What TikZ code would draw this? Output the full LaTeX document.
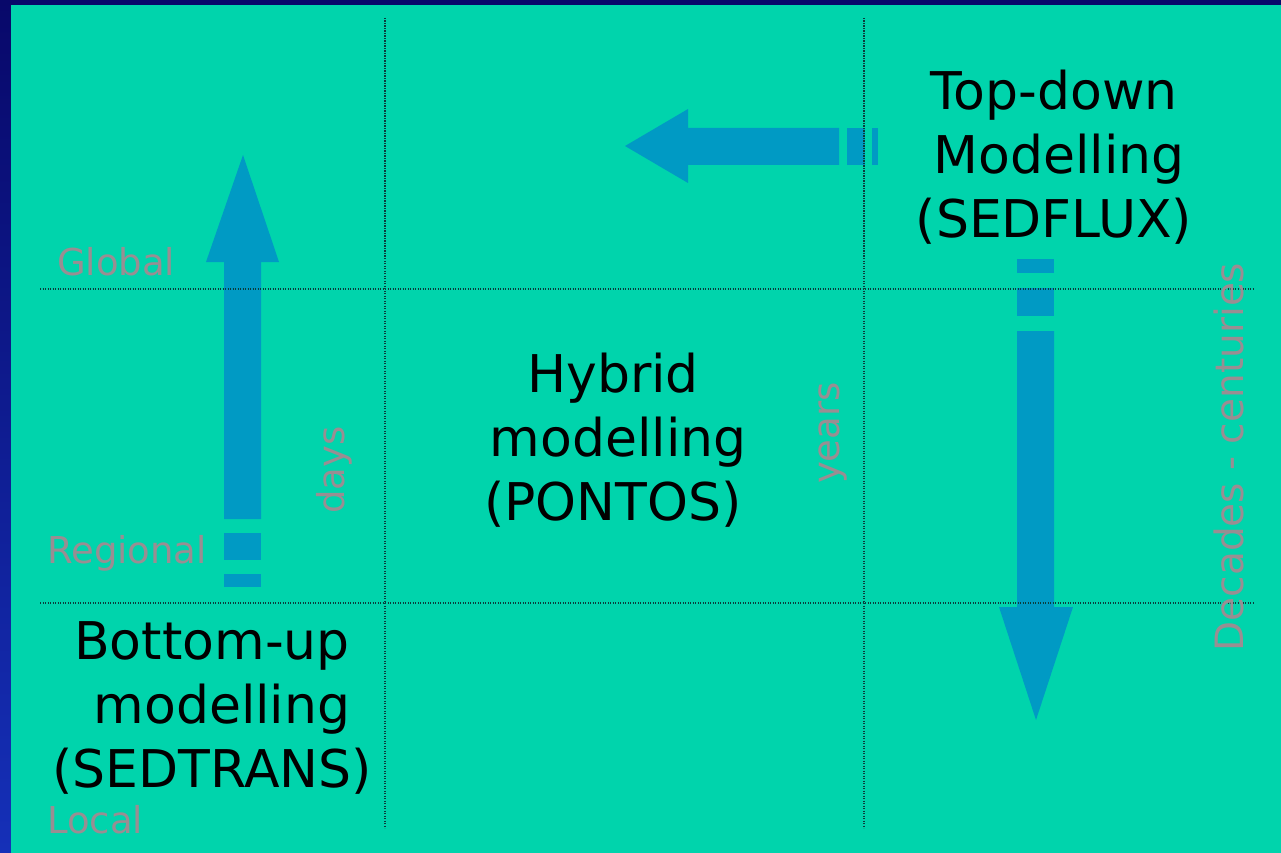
\documentclass[tikz,border=0pt]{standalone}
\usepackage{fontspec}
\setmainfont{DejaVu Sans}
\definecolor{bgteal}{HTML}{00D4AC}
\definecolor{arrowblue}{HTML}{009AC4}
\definecolor{navytop}{HTML}{08086A}
\definecolor{navybot}{HTML}{1530B8}
\definecolor{labelgray}{HTML}{998E92}
\definecolor{dotcol}{HTML}{0B3C3C}
\tikzset{
  bigtext/.style={align=center, text=black, font=\fontsize{52}{64}\selectfont, inner sep=0pt},
  graylabel/.style={text=labelgray, font=\fontsize{37}{44}\selectfont, inner sep=0pt},
  fatarrow/.style={fill=arrowblue, draw=none},
  gridline/.style={draw=dotcol, line width=1.4pt, dash pattern=on 1.3pt off 1.2pt}
}
\begin{document}
\begin{tikzpicture}[x=1pt,y=-1pt]
\useasboundingbox (0,0) rectangle (1281,853);
% background
\shade[top color=navytop, bottom color=navybot] (0,0) rectangle (1281,853);
\fill[bgteal] (11,5) rectangle (1281,853);

% up arrow (bottom-up)
\fill[fatarrow] (224,519) -- (224,262) -- (206,262) -- (243,155) -- (279,262) -- (261,262) -- (261,519) -- cycle;
\fill[fatarrow] (224,533) rectangle (261,560);
\fill[fatarrow] (224,574) rectangle (261,587);

% left arrow (top-down -> hybrid)
\fill[fatarrow] (839,128) -- (688,128) -- (688,109) -- (625,146) -- (688,183) -- (688,165) -- (839,165) -- cycle;
\fill[fatarrow] (847,128) rectangle (865,165);
\fill[fatarrow] (872,128) rectangle (878,165);

% down arrow
\fill[fatarrow] (1017,259) rectangle (1054,273);
\fill[fatarrow] (1017,288) rectangle (1054,316);
\fill[fatarrow] (1017,331) -- (1017,607) -- (999,607) -- (1036,720) -- (1073,607) -- (1054,607) -- (1054,331) -- cycle;

% grid
\coordinate (v1t) at (385,18);  \coordinate (v1b) at (385,828);
\coordinate (v2t) at (864,18);  \coordinate (v2b) at (864,828);
\coordinate (h1l) at (40,289);  \coordinate (h1r) at (1254,289);
\coordinate (h2l) at (40,603);  \coordinate (h2r) at (1254,603);
\draw[gridline] (v1t) -- (v1b);
\draw[gridline] (v2t) -- (v2b);
\draw[gridline] (h1l) -- (h1r);
\draw[gridline] (h2l) -- (h2r);

% main texts
\node[bigtext] (topdown) at (1054,157) {Top-down\\\hspace*{10pt}Modelling\\(SEDFLUX)};
\node[bigtext] (hybrid) at (613,440) {Hybrid\\\hspace*{10pt}modelling\\(PONTOS)};
\node[bigtext] (bottomup) at (212,708) {Bottom-up\\\hspace*{20pt}modelling\\(SEDTRANS)};

% gray labels
\node[graylabel, anchor=base west] (global) at (57,275) {Global};
\node[graylabel, anchor=base west] (regional) at (47,563) {Regional};
\node[graylabel, anchor=base west] (local) at (47,833) {Local};
\node[graylabel, rotate=90] (days) at (334,470) {days};
\node[graylabel, rotate=90] (years) at (833,433) {years};
\node[graylabel, rotate=90, font=\fontsize{39}{46}\selectfont] (decades) at (1229,457) {Decades - centuries};
\end{tikzpicture}
\end{document}
